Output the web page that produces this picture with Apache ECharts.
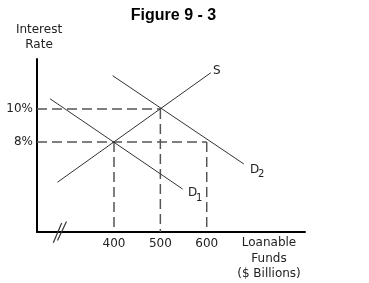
<!DOCTYPE html>
<html>
<head>
<meta charset="utf-8">
<script src="https://cdn.jsdelivr.net/npm/echarts@6/dist/echarts.min.js"></script>
<style>
html,body{margin:0;padding:0;background:#fff;}
#c{width:369px;height:283px;}
</style>
</head>
<body>
<div id="c"></div>
<script>
// ---- data ----
const xTicks = [400, 500, 600];
const yTicks = [8, 10];
const supplyS = [[278, 5.56], [609, 12.2]];
const demandD1 = [[262, 10.62], [548, 5.15]];
const demandD2 = [[397, 12.02], [680, 6.67]];
const horizGuides = [[500, 10], [600, 8]];          // dashed from y-axis to point
const vertGuides = [[400, 8], [500, 10], [600, 8]];  // dashed from point to x-axis
const xRange = [233.9, 812];
const yRange = [2.545, 13.03];

const FONT = 'DejaVu Sans';
const chart = echarts.init(document.getElementById('c'), null, {renderer: 'canvas'});

const dashStyle = {color: '#555', width: 1.5, type: [10, 5]};
const guideSeries = [];
horizGuides.forEach(p => guideSeries.push({
  type: 'line', data: [[xRange[0], p[1]], p], symbol: 'none', silent: true,
  lineStyle: dashStyle, z: 1
}));
vertGuides.forEach(p => guideSeries.push({
  type: 'line', data: [p, [p[0], yRange[0]]], symbol: 'none', silent: true,
  lineStyle: dashStyle, z: 1
}));

const curve = d => ({type: 'line', data: d, symbol: 'none', silent: true,
  lineStyle: {color: '#333', width: 1}, z: 2});

const txt = (x, y, text, size, align) => ({type: 'text', x: x, y: y,
  style: {text: text, fill: '#222', font: size + 'px "DejaVu Sans"', align: align || 'center', verticalAlign: 'middle'}});

chart.setOption({
  animation: false,
  backgroundColor: '#fff',
  title: {
    text: 'Figure 9 - 3', left: 168.5, top: 3, textAlign: 'center',
    textStyle: {fontFamily: 'Liberation Sans', fontWeight: 'bold', fontSize: 16, color: '#000'}
  },
  grid: {left: 37, right: 64, top: 59, bottom: 51},
  xAxis: {
    type: 'value', min: xRange[0], max: xRange[1],
    splitLine: {show: false},
    axisLine: {lineStyle: {color: '#000', width: 2}},
    axisTick: {show: false},
    axisLabel: {customValues: xTicks, margin: 6, color: '#222', fontFamily: FONT, fontSize: 12}
  },
  yAxis: {
    type: 'value', min: yRange[0], max: yRange[1],
    splitLine: {show: false},
    axisLine: {lineStyle: {color: '#000', width: 2}},
    axisTick: {show: false},
    axisLabel: {customValues: yTicks, margin: 4, color: '#222', fontFamily: FONT, fontSize: 12,
      formatter: v => v + '%'}
  },
  series: guideSeries.concat([curve(supplyS), curve(demandD1), curve(demandD2)]),
  graphic: [
    txt(39, 30, 'Interest', 12),
    txt(39, 45, 'Rate', 12),
    txt(269, 243, 'Loanable', 12),
    txt(269, 258.5, 'Funds', 12),
    txt(269, 274, '($ Billions)', 12),
    txt(213, 71, 'S', 12, 'left'),
    txt(250, 170, 'D', 12, 'left'),
    txt(258, 174, '2', 10, 'left'),
    txt(188, 193, 'D', 12, 'left'),
    txt(196, 198, '1', 10, 'left'),
    {type: 'line', shape: {x1: 53.3, y1: 242.7, x2: 61.7, y2: 223}, style: {stroke: '#333', lineWidth: 1.2}, z: 10},
    {type: 'line', shape: {x1: 57.5, y1: 240.5, x2: 66.5, y2: 221.5}, style: {stroke: '#333', lineWidth: 1.2}, z: 10}
  ]
});
</script>
</body>
</html>
